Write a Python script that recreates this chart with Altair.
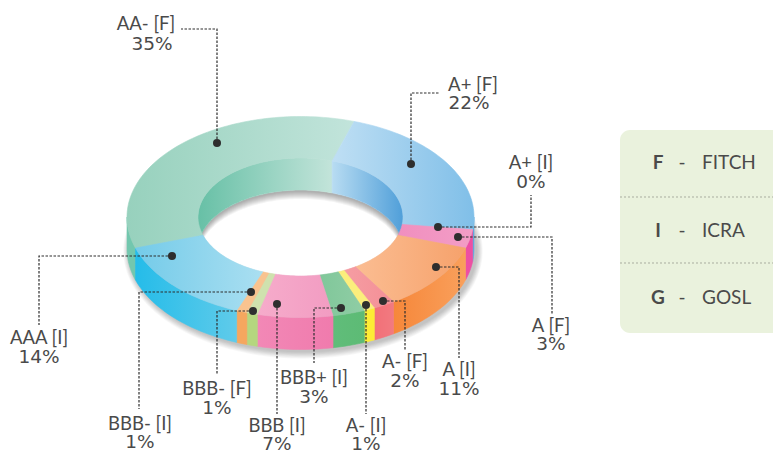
import math
import altair as alt
import pandas as pd

# ---------- chart values ----------
names = ["AA- [F]", "A+ [F]", "A+ [I]", "A [F]", "A [I]", "A- [F]", "A- [I]",
         "BBB+ [I]", "BBB [I]", "BBB- [F]", "BBB- [I]", "AAA [I]"]
shares = [35, 22, 0, 3, 11, 2, 1, 3, 7, 1, 1, 14]
legend_keys = ["F", "I", "G"]
legend_names = ["FITCH", "ICRA", "GOSL"]

# ---------- styles ----------
top_colors = [("#97d1bd", "#c2e4db"), ("#bfdff4", "#80bfe8"), ("#f19ac3", "#f19ac3"),
              ("#f08fbf", "#f39dc6"), ("#fbbd92", "#f6a26c"), ("#f59da3", "#f48f96"),
              ("#fbee7c", "#fbee7c"), ("#80c79a", "#90cda5"), ("#f6accb", "#f29cc2"),
              ("#cfe2ae", "#cfe2ae"), ("#f9c38f", "#f9c38f"), ("#74cbe9", "#aadff1")]
side_colors = [("#72c7ae", "#72c7ae"), ("#5cabe0", "#5cabe0"), ("#ec4fa3", "#ec4fa3"),
               ("#ee4fa4", "#ec4fa3"), ("#f6873a", "#f9a05c"), ("#f27078", "#f27a80"),
               ("#fdec35", "#fdec35"), ("#60bd7a", "#5dbb75"), ("#f288b6", "#f07bad"),
               ("#b5d67f", "#b5d67f"), ("#f5a75f", "#f5a75f"), ("#25bce9", "#5fcbea")]
wall_colors = {0: ("#67c0a6", "#c3e4da"), 1: ("#b8dcf2", "#509fd9")}
ink = "#4a4a4a"
dark = "#2e2e2e"
name_font = "Lato"
pct_font = "DejaVu Sans"

# ---------- layout (image pixels) ----------
CX, CY = 300.5, 217.0
RX, RY = 173.5, 100.5
IX, IY = 102.5, 59.0
DEPTH = 32.0
START = -108.0
X_DOMAIN = [8, 773]
Y_DOMAIN = [453, 8]
name_xy = [(146, 24), (473, 85), (531, 163), (551, 326), (459, 370), (405, 362),
           (366, 426), (314, 378), (277, 426), (217, 389), (140, 424), (39, 338)]
pct_xy = [(152, 44), (469, 103), (531, 182), (551, 344), (459, 389), (405, 381),
          (366, 444), (314, 397), (277, 444), (217, 408), (140, 442), (39, 357)]
leaders = [
    [(217, 143), (217, 29), (181, 29)],
    [(411, 164), (411, 93), (440, 93)],
    [(438, 227), (531, 227), (531, 195)],
    [(458, 237), (552, 237), (552, 314)],
    [(436, 267), (459, 267), (459, 358)],
    [(383, 301), (405, 301), (405, 350)],
    [(366, 305), (366, 414)],
    [(341, 308), (314, 308), (314, 363)],
    [(277, 304), (277, 414)],
    [(253, 311), (217, 311), (217, 375)],
    [(251, 292), (139, 292), (139, 409)],
    [(172, 256), (39, 256), (39, 325)],
]
legend_y = [163, 231, 298]
legend_rules = [197, 263]

X = alt.X("x:Q", scale=alt.Scale(domain=X_DOMAIN, nice=False, zero=False), axis=None)
Y = alt.Y("y:Q", scale=alt.Scale(domain=Y_DOMAIN, nice=False, zero=False), axis=None)


def pt(rx, ry, deg, dy=0.0, dx=0.0):
    a = math.radians(deg)
    return (CX + dx + rx * math.sin(a), CY + dy - ry * math.cos(a))


def arc(rx, ry, a0, a1, dy=0.0, dx=0.0):
    n = max(2, int(abs(a1 - a0) / 1.5) + 2)
    return [pt(rx, ry, a0 + (a1 - a0) * i / (n - 1), dy, dx) for i in range(n)]


def grad(c):
    return alt.LinearGradient(gradient="linear", x1=0, y1=0, x2=1, y2=0,
                              stops=[alt.GradientStop(color=c[0], offset=0),
                                     alt.GradientStop(color=c[1], offset=1)])


def poly(points, fill, opacity=1.0, edge=True):
    df = pd.DataFrame({"x": [round(p[0], 2) for p in points],
                       "y": [round(p[1], 2) for p in points],
                       "i": list(range(len(points)))})
    kw = dict(interpolate="linear-closed", fill=fill, opacity=opacity)
    if edge:
        kw.update(stroke=fill, strokeWidth=0.6)
    else:
        kw.update(strokeWidth=0)
    return alt.Chart(df).mark_line(**kw).encode(x=X, y=Y, order=alt.Order("i:Q"))


# slice angles follow from the shares
edges = [START]
for s in shares:
    edges.append(edges[-1] + s * 3.6)

layers = []

# legend panel
legend_box = pd.DataFrame({"x": [620], "x2": [800], "y": [130], "y2": [333]})
layers.append(alt.Chart(legend_box).mark_rect(color="#eaf2dd", cornerRadius=10, clip=True)
              .encode(x=X, x2="x2:Q", y=Y, y2="y2:Q"))

# soft shadow under the ring
for k in range(9):
    grow = 9 - k
    layers.append(poly(arc(RX + grow * 0.7, RY + grow * 0.8, 0, 360, DEPTH + 2, 2.5),
                       "#000000", 0.028, edge=False))

# outer side wall (front half only)
for i in range(len(shares)):
    a0, a1 = edges[i], edges[i + 1]
    if i == 0:
        a0, a1 = a0 + 360, a1 + 360
    lo, hi = max(a0, 90), min(a1, 270)
    if hi - lo <= 0:
        continue
    top = arc(RX, RY, lo, hi)
    bot = arc(RX, RY, hi, lo, DEPTH)
    layers.append(poly(top + bot, grad(side_colors[i])))

# the hole
layers.append(poly(arc(IX, IY, 0, 360), "#ffffff"))
for k in range(8):
    d = 9 - k
    up = arc(IX, IY, -88, 88, DEPTH)
    low = arc(IX, IY, 88, -88, DEPTH + d)
    layers.append(poly(up + low, "#000000", 0.045, edge=False))

# inner wall (back half only)
for i, (lo, hi) in {0: (-90.0, edges[1]), 1: (edges[1], 90.0)}.items():
    layers.append(poly(arc(IX, IY, lo, hi) + arc(IX, IY, hi, lo, DEPTH), grad(wall_colors[i])))

# top face
for i in range(len(shares)):
    if shares[i] == 0:
        continue
    a0, a1 = edges[i], edges[i + 1]
    layers.append(poly(arc(RX, RY, a0, a1) + arc(IX, IY, a1, a0), grad(top_colors[i])))

# leader lines and dots
lead_rows, dot_rows = [], []
for n, path in enumerate(leaders):
    dot_rows.append({"x": path[0][0], "y": path[0][1]})
    for j, p in enumerate(path):
        lead_rows.append({"x": p[0], "y": p[1], "n": n, "j": j})
layers.append(alt.Chart(pd.DataFrame(lead_rows))
              .mark_line(color=dark, strokeWidth=1.2, strokeDash=[2.5, 1.5])
              .encode(x=X, y=Y, detail="n:N", order=alt.Order("j:Q")))
layers.append(alt.Chart(pd.DataFrame(dot_rows))
              .mark_point(filled=True, color=dark, size=64, opacity=1).encode(x=X, y=Y))

# labels
name_df = pd.DataFrame({"x": [p[0] for p in name_xy], "y": [p[1] for p in name_xy], "t": names})
pct_df = pd.DataFrame({"x": [p[0] for p in pct_xy], "y": [p[1] for p in pct_xy],
                       "t": [f"{s}%" for s in shares]})
layers.append(alt.Chart(name_df)
              .mark_text(font=name_font, fontSize=18.5, color=ink, align="center", baseline="middle")
              .encode(x=X, y=Y, text="t:N"))
layers.append(alt.Chart(pct_df)
              .mark_text(font=pct_font, fontSize=18.5, color=ink, align="center", baseline="middle")
              .encode(x=X, y=Y, text="t:N"))

# legend contents
rule_rows = []
for n, y in enumerate(legend_rules):
    rule_rows += [{"x": 620, "y": y, "n": n}, {"x": 773, "y": y, "n": n}]
layers.append(alt.Chart(pd.DataFrame(rule_rows))
              .mark_line(color="#a9ad9f", strokeWidth=1, strokeDash=[2, 2])
              .encode(x=X, y=Y, detail="n:N"))
layers.append(alt.Chart(pd.DataFrame({"x": [658] * 3, "y": legend_y, "t": legend_keys}))
              .mark_text(font=name_font, fontSize=19, fontWeight="bold", color=ink, baseline="middle")
              .encode(x=X, y=Y, text="t:N"))
layers.append(alt.Chart(pd.DataFrame({"x": [682] * 3, "y": legend_y, "t": ["-"] * 3}))
              .mark_text(font=name_font, fontSize=19, color=ink, baseline="middle")
              .encode(x=X, y=Y, text="t:N"))
layers.append(alt.Chart(pd.DataFrame({"x": [702] * 3, "y": legend_y, "t": legend_names}))
              .mark_text(font=name_font, fontSize=19, color=ink, align="left", baseline="middle")
              .encode(x=X, y=Y, text="t:N"))

chart = alt.layer(*layers).properties(
    width=765, height=445, padding=0, background="#ffffff",
    autosize=alt.AutoSizeParams(type="none"),
).configure_view(stroke=None)

chart.save("out.html", embed_options={"renderer": "svg", "actions": False})
